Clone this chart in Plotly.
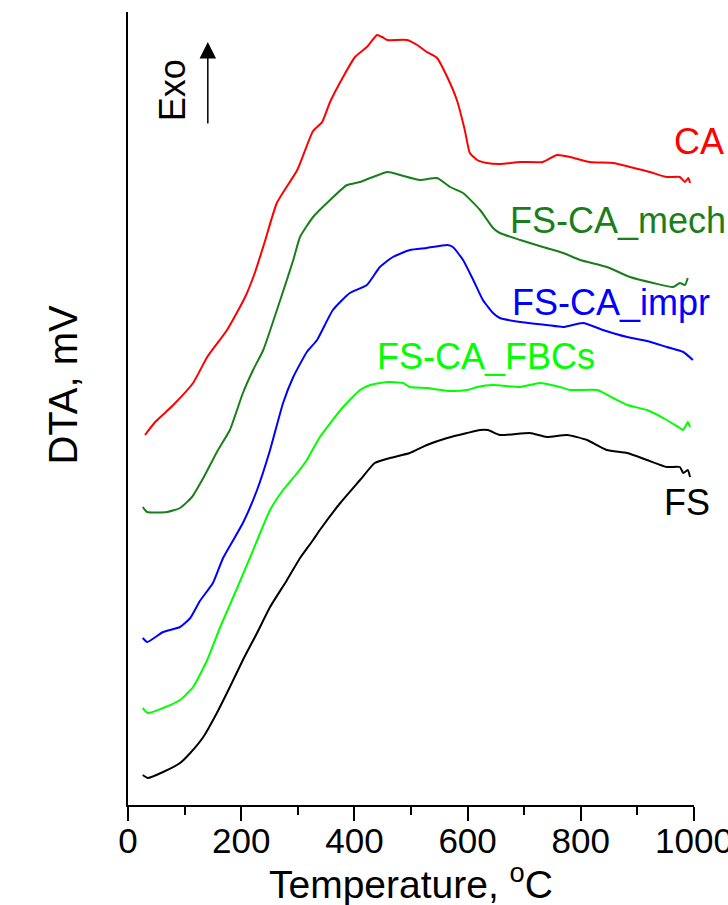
import plotly.graph_objects as go

# ---- data (temperature in °C, DTA in arbitrary offset units) ----
ca_t = [30, 48, 80, 115, 140, 175, 207, 224, 241, 263, 299, 327, 343, 357, 380, 401, 422, 440, 449, 458,
        493, 511, 528, 546, 564, 581, 595, 604, 617, 634, 657, 693, 733, 758, 781, 816, 857, 887, 922, 952,
        975, 984, 990, 993]
ca_v = [370, 383, 400, 422, 448, 475, 508, 532, 562, 602, 635, 674, 683, 703, 728, 748, 758, 770, 768, 765,
        765, 760, 753, 747, 728, 705, 675, 652, 645, 642, 641, 643, 643, 650, 648, 643, 642, 638, 633, 628,
        628, 623, 627, 622]

mech_t = [26, 34, 69, 92, 113, 133, 159, 180, 203, 221, 239, 269, 292, 304, 327, 357, 387, 410, 428, 459,
          481, 516, 546, 569, 592, 622, 645, 657, 693, 733, 769, 799, 846, 887, 928, 963, 975, 984, 989]
mech_v = [298, 293, 293, 297, 308, 327, 355, 375, 412, 435, 455, 505, 545, 568, 588, 605, 620, 623, 627, 633,
          630, 625, 627, 618, 612, 595, 577, 572, 565, 558, 552, 545, 538, 528, 522, 518, 522, 520, 527]

impr_t = [26, 34, 62, 92, 110, 127, 150, 168, 203, 228, 251, 274, 292, 316, 334, 362, 392, 422, 445, 468,
          498, 528, 564, 574, 592, 610, 627, 645, 657, 693, 740, 769, 804, 839, 882, 917, 952, 981, 998]
impr_v = [167, 163, 173, 178, 187, 204, 222, 247, 282, 315, 355, 402, 428, 453, 465, 495, 512, 520, 538, 548,
          555, 557, 560, 558, 545, 525, 505, 492, 487, 483, 480, 478, 482, 475, 468, 464, 458, 453, 445]

fbcs_t = [26, 35, 62, 92, 115, 140, 163, 186, 216, 251, 274, 299, 316, 339, 380, 410, 428, 458, 486, 498,
          528, 569, 599, 617, 645, 693, 728, 763, 781, 829, 857, 882, 917, 952, 975, 981, 989, 993]
fbcs_v = [97, 92, 97, 105, 118, 145, 178, 208, 248, 295, 315, 332, 345, 368, 398, 415, 420, 423, 422, 418,
          417, 414, 415, 418, 420, 418, 422, 418, 415, 415, 407, 400, 395, 385, 377, 375, 383, 378]

fs_t = [26, 35, 62, 92, 110, 133, 157, 180, 203, 228, 251, 281, 304, 327, 339, 375, 410, 436, 463, 498,
        528, 564, 599, 622, 636, 657, 710, 740, 776, 811, 846, 882, 917, 952, 975, 981, 989, 993]
fs_v = [30, 27, 33, 42, 52, 68, 92, 118, 145, 172, 198, 225, 247, 265, 275, 302, 325, 342, 347, 352,
        360, 367, 372, 375, 375, 370, 372, 368, 370, 365, 355, 352, 345, 338, 338, 332, 335, 328]

series_names = ["CA", "FS-CA_mech", "FS-CA_impr", "FS-CA_FBCs", "FS"]
series_colors = ["#FF0000", "#1A7F1A", "#0000FF", "#00FF00", "#000000"]
series_t = [ca_t, mech_t, impr_t, fbcs_t, fs_t]
series_v = [ca_v, mech_v, impr_v, fbcs_v, fs_v]
label_pos = [(961, 664), (671, 585), (675, 503), (436, 449), (943, 303)]

x_ticks = [0, 200, 400, 600, 800, 1000]

FONT = "Liberation Sans, Arial, sans-serif"

fig = go.Figure()
for name, col, t, v in zip(series_names, series_colors, series_t, series_v):
    fig.add_trace(go.Scatter(x=t, y=v, mode="lines", name=name,
                             line=dict(color=col, width=2, shape="spline", smoothing=0.5),
                             showlegend=False))

annotations = []
for name, col, (lx, ly) in zip(series_names, series_colors, label_pos):
    annotations.append(dict(x=lx, y=ly, xref="x", yref="y", text=name, showarrow=False,
                            xanchor="left", yanchor="middle",
                            font=dict(family=FONT, size=36, color=col)))
# Exo text and arrow
annotations.append(dict(x=78, y=715, xref="x", yref="y", text="Exo", showarrow=False,
                        textangle=-90, font=dict(family=FONT, size=36, color="black")))
annotations.append(dict(x=141, y=763, xref="x", yref="y", text="", showarrow=True,
                        ax=0, ay=83, arrowhead=2, arrowsize=2.2, arrowwidth=1.5,
                        arrowcolor="black"))
# axis titles
annotations.append(dict(x=-0.115, y=0.53, xref="paper", yref="paper", text="DTA, mV",
                        showarrow=False, textangle=-90, xanchor="center", yanchor="middle",
                        font=dict(family=FONT, size=40, color="black")))
annotations.append(dict(x=0.5, y=-0.097, xref="paper", yref="paper",
                        text="Temperature, <sup>o</sup>C",
                        showarrow=False, xanchor="center", yanchor="middle",
                        font=dict(family=FONT, size=39, color="black")))

fig.update_layout(
    width=728, height=905,
    margin=dict(l=128, r=34, t=12, b=100, autoexpand=False),
    paper_bgcolor="white", plot_bgcolor="white",
    font=dict(family=FONT, color="black"),
    annotations=annotations,
    xaxis=dict(range=[0, 1000], tickvals=x_ticks, ticktext=[str(v) for v in x_ticks],
               automargin=False, ticklabeloverflow="allow", ticklabelstandoff=-10,
               showline=True, linecolor="black", linewidth=2, mirror=False,
               ticks="outside", ticklen=14, tickwidth=2, tickcolor="black",
               minor=dict(dtick=100, ticks="outside", ticklen=8, tickwidth=2, tickcolor="black"),
               showgrid=False, zeroline=False,
               tickfont=dict(family=FONT, size=35, color="black")),
    yaxis=dict(range=[0, 793], automargin=False, showline=True, linecolor="black", linewidth=2,
               showticklabels=False, ticks="", showgrid=False, zeroline=False),
)

fig.write_html("out.html")
